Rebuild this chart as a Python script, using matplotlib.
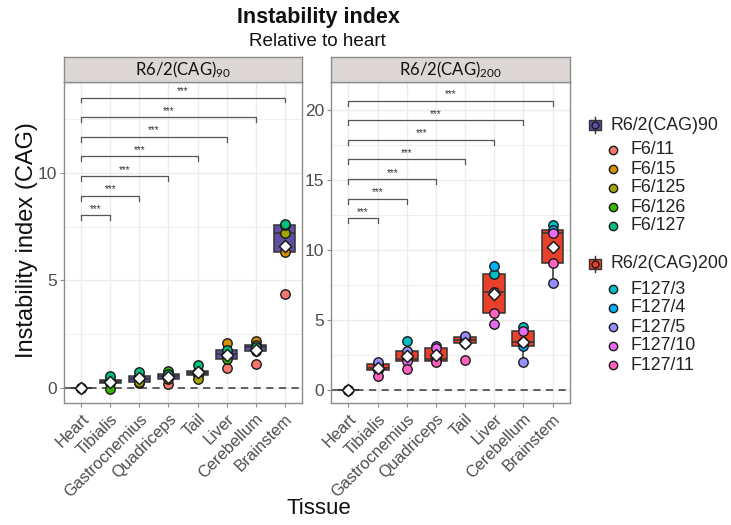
import numpy as np
import matplotlib
matplotlib.use("Agg")
import matplotlib.pyplot as plt
from matplotlib.lines import Line2D
from matplotlib.patches import Rectangle

plt.rcParams['font.family'] = ['Liberation Sans', 'DejaVu Sans']
plt.rcParams['mathtext.fontset'] = 'custom'
plt.rcParams['mathtext.rm'] = 'Lato'
plt.rcParams['mathtext.it'] = 'Lato:italic'

# ---------------- data ----------------
tissues = ["Heart", "Tibialis", "Gastrocnemius", "Quadriceps", "Tail",
           "Liver", "Cerebellum", "Brainstem"]

mice90 = ["F6/11", "F6/15", "F6/125", "F6/126", "F6/127"]
colors90 = ["#F8766D", "#D89000", "#A3A500", "#39B600", "#00BF7D"]
f6_11 = [0, 0.30, 0.25, 0.18, 0.60, 0.93, 1.15, 4.35]
f6_15 = [0, 0.23, 0.45, 0.45, 0.72, 2.10, 2.20, 6.31]
f6_125 = [0, 0.37, 0.30, 0.55, 0.45, 1.60, 2.00, 7.18]
f6_126 = [0, -0.05, 0.57, 0.80, 0.80, 1.35, 1.75, 7.55]
f6_127 = [0, 0.57, 0.75, 0.65, 1.10, 1.80, 1.90, 7.64]
values90 = [f6_11, f6_15, f6_125, f6_126, f6_127]

mice200 = ["F127/3", "F127/4", "F127/5", "F127/10", "F127/11"]
colors200 = ["#00BFC4", "#00B0F6", "#9590FF", "#E76BF3", "#FF62BC"]
f127_3 = [0, 1.55, 3.50, 2.19, 3.75, 8.25, 4.50, 11.80]
f127_4 = [0, 1.86, 2.20, 2.02, 3.55, 8.85, 3.10, 11.45]
f127_5 = [0, 2.00, 2.74, 3.15, 3.85, 7.00, 1.95, 7.65]
f127_10 = [0, 1.38, 2.02, 2.98, 3.35, 4.70, 4.17, 11.20]
f127_11 = [0, 1.00, 1.48, 1.95, 2.15, 5.45, 3.38, 9.05]
values200 = [f127_3, f127_4, f127_5, f127_10, f127_11]

# significance bracket heights (Heart vs each tissue)
brackets90 = [8.02, 8.93, 9.84, 10.75, 11.66, 12.57, 13.48]
brackets200 = [12.26, 13.66, 15.06, 16.46, 17.86, 19.26, 20.66]
sig_labels = ["***"] * 7

group_names = ["R6/2(CAG)90", "R6/2(CAG)200"]
strip_labels = [r"R6/2(CAG)$_{90}$", r"R6/2(CAG)$_{200}$"]
box_colors = ["#5E4FA2", "#E8402A"]

# ---------------- figure ----------------
W, H = 731, 525
fig = plt.figure(figsize=(W / 100, H / 100), dpi=100)

def fx(px):
    return px / W

def fy(py):
    return 1 - py / H

panels = [
    dict(x0=64, x1=302, vals=values90, cols=colors90, br=brackets90,
         ylim=(-0.68, 14.2), yticks=[0, 5, 10], minor=[2.5, 7.5, 12.5],
         tick=0.23, boxc=box_colors[0], strip=strip_labels[0]),
    dict(x0=331, x1=570, vals=values200, cols=colors200, br=brackets200,
         ylim=(-0.95, 22.0), yticks=[0, 5, 10, 15, 20],
         minor=[2.5, 7.5, 12.5, 17.5], tick=0.35, boxc=box_colors[1],
         strip=strip_labels[1]),
]

top_px, bot_px, strip_top = 82, 403, 57
grid_c = "#EFEBEB"
border_c = "#8C8C8C"
text_gray = "#4D4D4D"
pos = np.arange(1, len(tissues) + 1)

for p in panels:
    ax = fig.add_axes([fx(p['x0']), fy(bot_px), fx(p['x1'] - p['x0']),
                       (bot_px - top_px) / H])

    ax.axhline(0, color="#555555", ls=(0, (4, 3)), lw=1.3, zorder=1)

    data = [[m[i] for m in p['vals']] for i in range(len(tissues))]
    ax.boxplot(data, positions=pos, widths=0.75, patch_artist=True,
               showfliers=False, whis=1.5, showcaps=False, manage_ticks=False,
               boxprops=dict(facecolor=p['boxc'], edgecolor="#333333", lw=1.1),
               medianprops=dict(color="#333333", lw=1.1),
               whiskerprops=dict(color="#333333", lw=1.1),
               zorder=2)

    for m, c in zip(p['vals'], p['cols']):
        ax.scatter(pos, m, s=46, color=c, edgecolor="#1a1a1a", lw=1.0,
                   zorder=3)

    means = [np.mean(d) for d in data]
    ax.scatter(pos, means, marker='D', s=38, color='white',
               edgecolor='#1a1a1a', lw=1.1, zorder=4)

    # significance brackets
    for k, (yb, lab) in enumerate(zip(p['br'], sig_labels), start=2):
        ax.plot([1, 1, k, k], [yb - p['tick'], yb, yb, yb - p['tick']],
                color="#555555", lw=0.9, zorder=2)
        ax.annotate(lab, xy=((1 + k) / 2, yb), xytext=(0, 2.5),
                    textcoords='offset points', ha='center', va='baseline',
                    fontsize=7, color="#333333")

    ax.set_xlim(0.4, len(tissues) + 0.6)
    ax.set_ylim(*p['ylim'])
    ax.set_yticks(p['yticks'])
    ax.set_yticks(p['minor'], minor=True)
    ax.set_xticks(pos)
    ax.set_xticklabels(tissues, rotation=45, ha='right', va='top',
                       rotation_mode='anchor', fontsize=11.8, color=text_gray)
    ax.tick_params(axis='y', labelsize=12.5, labelcolor=text_gray,
                   color=border_c, length=3, width=0.8, pad=2)
    ax.tick_params(axis='x', color=border_c, length=3, width=0.8, pad=3)
    ax.tick_params(which='minor', length=0)
    ax.grid(True, which='major', color=grid_c, lw=1.0, zorder=0)
    ax.grid(True, which='minor', axis='y', color=grid_c, lw=0.6, zorder=0)
    ax.set_axisbelow(True)
    for s in ax.spines.values():
        s.set_color(border_c)
        s.set_linewidth(1.0)

    # strip
    sax = fig.add_axes([fx(p['x0']), fy(top_px), fx(p['x1'] - p['x0']),
                        (top_px - strip_top) / H])
    sax.set_facecolor("#DDD8D5")
    sax.set_xticks([])
    sax.set_yticks([])
    for s in sax.spines.values():
        s.set_color(border_c)
        s.set_linewidth(1.0)
    sax.text(0.5, 0.5, p['strip'], ha='center', va='center', fontsize=12,
             family='Lato', color="#111111", transform=sax.transAxes)

# titles and labels
fig.text(fx(318), fy(18), "Instability index", ha='center', va='center',
         fontsize=15.5, fontweight='bold', color="#111111")
fig.text(fx(317), fy(42), "Relative to heart", ha='center', va='center',
         fontsize=13.6, color="#111111")
fig.text(fx(27), fy(240), "Instability index (CAG)", ha='center', va='center',
         rotation=90, fontsize=17, color="#111111")
fig.text(fx(319), fy(509), "Tissue", ha='center', va='center', fontsize=16,
         color="#111111")

# legend (manual)
def legend_group(y_head, name, boxc, mice, cols):
    fig.add_artist(Line2D([fx(595), fx(595)], [fy(y_head - 8), fy(y_head + 8)],
                          color="#333333", lw=1.0))
    fig.add_artist(Rectangle((fx(589), fy(y_head + 5)), fx(12), 10 / H,
                             facecolor=boxc, edgecolor="#333333", lw=1.0))
    fig.add_artist(Line2D([fx(595)], [fy(y_head)], marker='o', markersize=5,
                          markerfacecolor=boxc, markeredgecolor="#1a1a1a",
                          markeredgewidth=1.0))
    fig.text(fx(611), fy(y_head), name, ha='left', va='center', fontsize=12.8,
             color="#222222")
    for i, (m, c) in enumerate(zip(mice, cols)):
        yy = y_head + 25 + i * 19
        fig.add_artist(Line2D([fx(613)], [fy(yy)], marker='o', markersize=6,
                              markerfacecolor=c, markeredgecolor="#1a1a1a",
                              markeredgewidth=1.0))
        fig.text(fx(631), fy(yy), m, ha='left', va='center', fontsize=12.8,
                 color="#222222")

legend_group(125, group_names[0], box_colors[0], mice90, colors90)
legend_group(264, group_names[1], box_colors[1], mice200, colors200)

fig.savefig("out.png", dpi=100)
